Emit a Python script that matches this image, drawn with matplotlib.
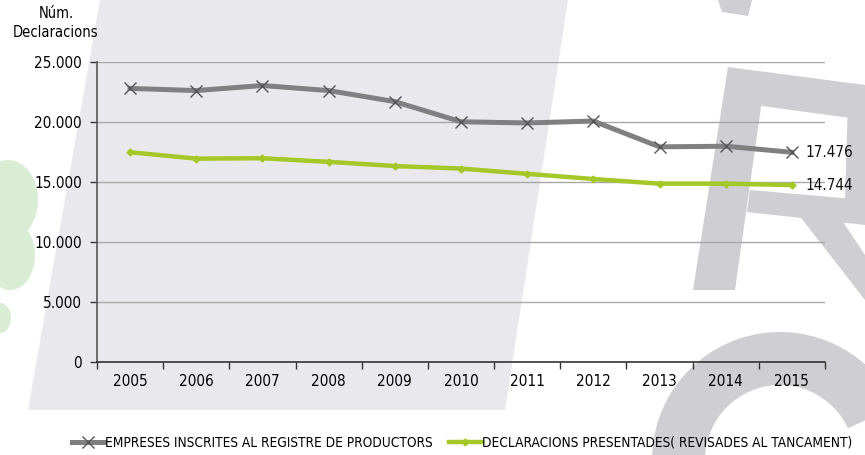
import matplotlib
matplotlib.use("Agg")
import matplotlib.pyplot as plt
from matplotlib.patches import Polygon, Ellipse, Wedge
from matplotlib.ticker import FuncFormatter, MultipleLocator

# Data
years = ["2005", "2006", "2007", "2008", "2009", "2010",
         "2011", "2012", "2013", "2014", "2015"]
empreses = [22800, 22620, 23040, 22620, 21700, 20020,
            19920, 20080, 17930, 17980, 17476]
declaracions = [17480, 16950, 16980, 16680, 16330, 16120,
                15680, 15250, 14860, 14860, 14744]
label_empreses = "EMPRESES INSCRITES AL REGISTRE DE PRODUCTORS"
label_declaracions = "DECLARACIONS PRESENTADES( REVISADES AL TANCAMENT)"

plt.rcParams["font.family"] = ["DejaVu Sans"]
plt.rcParams["font.stretch"] = "condensed"

fig = plt.figure(figsize=(8.65, 4.55), dpi=100)
fig.patch.set_facecolor("white")

# Background decoration (pixel coordinates, y downwards)
bg = fig.add_axes([0, 0, 1, 1], zorder=0)
bg.set_xlim(0, 865)
bg.set_ylim(455, 0)
bg.axis("off")
band = "#e9e9ed"
logo = "#cfcfd3"
green = "#d8edd3"
bg.add_patch(Polygon([(100, 0), (568, 0), (505, 410), (28, 410)],
                     closed=True, color=band, lw=0))
bg.add_patch(Ellipse((8, 200), 60, 80, color=green, lw=0))
bg.add_patch(Ellipse((10, 255), 50, 70, color=green, lw=0))
bg.add_patch(Ellipse((0, 318), 22, 30, color=green, lw=0))
# R
bg.add_patch(Polygon([(728, 67), (762, 100), (735, 290), (693, 290)],
                     closed=True, color=logo, lw=0))
bg.add_patch(Polygon([(728, 67), (865, 85), (865, 120), (762, 106)],
                     closed=True, color=logo, lw=0))
bg.add_patch(Polygon([(848, 100), (865, 100), (865, 215), (845, 200)],
                     closed=True, color=logo, lw=0))
bg.add_patch(Polygon([(750, 190), (865, 200), (865, 225), (747, 212)],
                     closed=True, color=logo, lw=0))
bg.add_patch(Polygon([(795, 210), (835, 210), (865, 255), (865, 300)],
                     closed=True, color=logo, lw=0))
bg.add_patch(Polygon([(718, 0), (752, 0), (748, 16), (722, 12)],
                     closed=True, color=logo, lw=0))
# C
bg.add_patch(Wedge((780, 460), 128, 168, 335, width=53, color=logo, lw=0))

ax = fig.add_axes([97 / 865, 1 - 362 / 455, 728 / 865, 300 / 455], zorder=1)
ax.set_facecolor("none")

x = list(range(len(years)))
ax.plot(x, empreses, color="#808080", lw=3.6, marker="x", markersize=9,
        markeredgecolor="#555555", markeredgewidth=1.0,
        label=label_empreses, zorder=3)
ax.plot(x, declaracions, color="#a4c827", lw=3.2, marker="D", markersize=3.5,
        markeredgecolor="#a4c827", label=label_declaracions, zorder=3)

ax.annotate(f"{empreses[-1]:,}".replace(",", "."), (x[-1], empreses[-1]),
            xytext=(10, 0), textcoords="offset points", va="center",
            fontsize=11, color="#111111")
ax.annotate(f"{declaracions[-1]:,}".replace(",", "."), (x[-1], declaracions[-1]),
            xytext=(10, 0), textcoords="offset points", va="center",
            fontsize=11, color="#111111")

ax.set_xlim(-0.5, len(years) - 0.5)
ax.set_ylim(0, 25000)
ax.yaxis.set_major_locator(MultipleLocator(5000))
ax.yaxis.set_major_formatter(FuncFormatter(lambda v, p: f"{int(v):,}".replace(",", ".")))
ax.set_xticks(x)
ax.set_xticklabels(years)
ax.set_xticks([i - 0.5 for i in range(len(years) + 1)], minor=True)
ax.tick_params(axis="x", which="major", length=0, pad=9, labelsize=11)
ax.tick_params(axis="x", which="minor", length=5, width=1, color="#333333",
               direction="out")
ax.tick_params(axis="y", length=5, width=1, color="#333333", direction="out",
               labelsize=11, pad=6)
ax.grid(axis="y", color="#a8a8a8", lw=1)
ax.set_axisbelow(True)
for s in ["top", "right"]:
    ax.spines[s].set_visible(False)
ax.spines["left"].set_color("#555555")
ax.spines["bottom"].set_color("#333333")
ax.spines["left"].set_linewidth(1.2)
ax.spines["bottom"].set_linewidth(1.2)

fig.text(56 / 865, 1 - 23 / 455, "Núm.\nDeclaracions", ha="center", va="center",
         fontsize=10.5, linespacing=1.35)

fig.legend(loc="center", bbox_to_anchor=(462 / 865, 1 - 443 / 455), ncol=2,
           frameon=False, fontsize=9.8, handlelength=2.4, handletextpad=0.05,
           columnspacing=1.2, borderpad=0)

fig.savefig("out.png", dpi=100)
